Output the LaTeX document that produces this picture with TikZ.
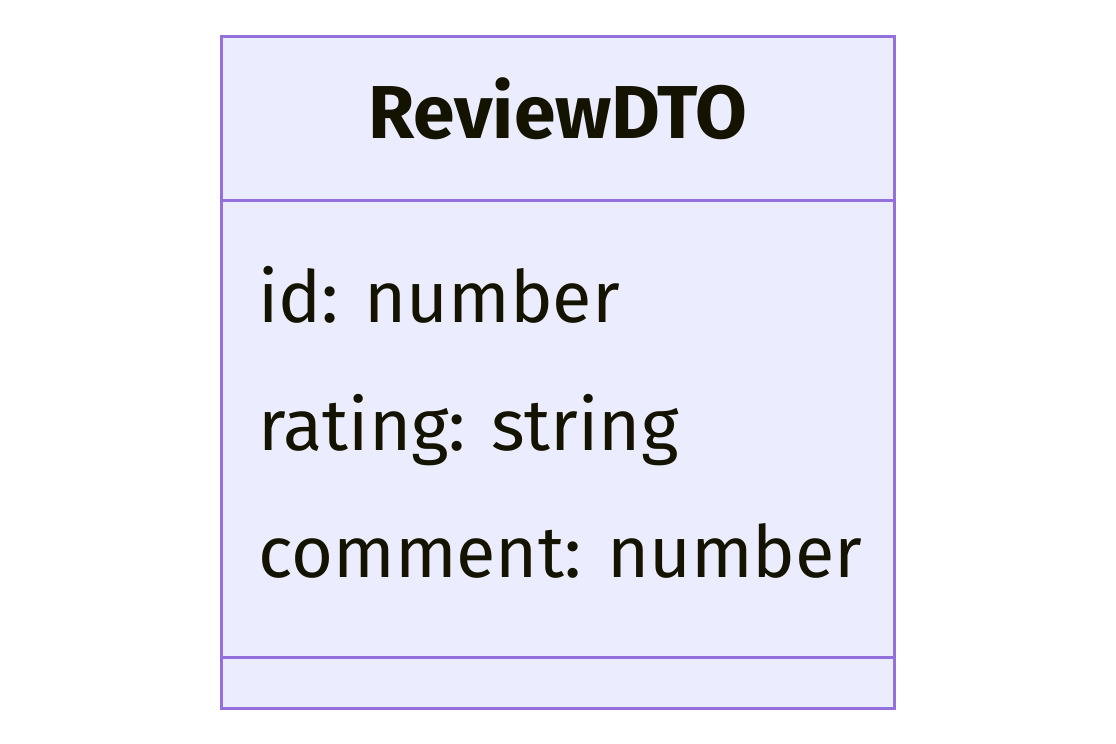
\documentclass[tikz,border=0pt]{standalone}
\usepackage{fontspec}
\setmainfont{Fira Sans}
\definecolor{classfill}{HTML}{ECECFF}
\definecolor{classline}{HTML}{9370DB}
\definecolor{classtext}{HTML}{131300}
\begin{document}
\begin{tikzpicture}[x=1pt,y=-1pt,
  member/.style={anchor=base west,inner sep=0pt,text=classtext,font=\fontsize{72}{74}\selectfont},
  title/.style={anchor=base,inner sep=0pt,text=classtext,font=\fontsize{75}{77}\selectfont\bfseries}]
\useasboundingbox (0,0) rectangle (1116,744);
% class box
\draw[classline,fill=classfill,line width=3pt] (221,36) rectangle (894,708);
\draw[classline,line width=3pt] (221,200) -- (894,200);
\draw[classline,line width=3pt] (221,657) -- (894,657);
% header and members
\node[title] (name) at (558,138) {ReviewDTO};
\node[member] (id) at (258,322) {id: number};
\node[member] (rating) at (258,450) {rating: string};
\node[member] (comment) at (258,577) {comment: number};
\end{tikzpicture}
\end{document}
